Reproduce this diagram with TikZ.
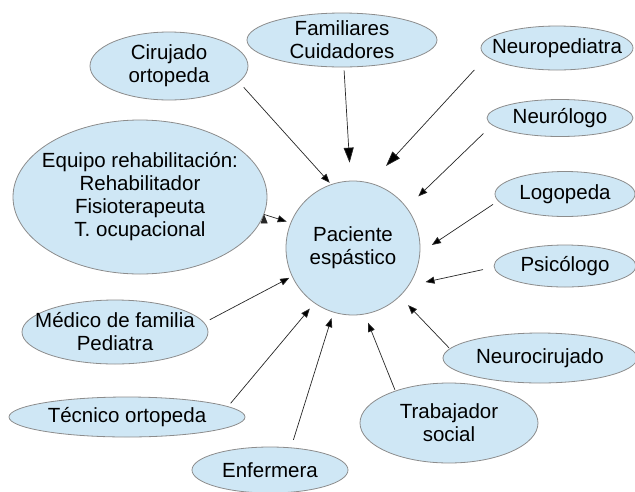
\documentclass[tikz,border=0pt]{standalone}
\usepackage{fontspec}
\setmainfont{Liberation Sans}
\usetikzlibrary{arrows.meta, shapes.geometric}
\definecolor{bubble}{RGB}{207,231,245}

\begin{document}
\begin{tikzpicture}[x=1pt, y=-1pt, font=\fontsize{20.5}{23}\selectfont, role/.style={ellipse, draw=black!45, line width=0.8pt, fill=bubble, inner sep=-60pt, align=center}, link/.style={draw=black!85, line width=0.7pt, -{Triangle[length=9pt, width=7pt]}}, wide/.style={-{Triangle[length=15pt, width=10pt]}}]
\useasboundingbox (0,0) rectangle (635,491);
\node[role, circle, minimum size=134pt]                 (PAC) at (353,248) {Paciente\\espástico};
\node[role, minimum width=190pt, minimum height=54pt]  (FAM) at (342,40)  {Familiares\\Cuidadores};
\node[role, minimum width=158pt, minimum height=68pt]  (CIR) at (169,66)  {Cirujado\\ortopeda};
\node[role, minimum width=254pt, minimum height=154pt] (EQU) at (140,197) {Equipo rehabilitación:\\Rehabilitador\\Fisioterapeuta\\T. ocupacional};
\node[role, minimum width=152pt, minimum height=44pt]  (NPD) at (557,48)  {Neuropediatra};
\node[role, minimum width=146pt, minimum height=37pt]  (NEU) at (560,118) {Neurólogo};
\node[role, minimum width=140pt, minimum height=45pt]  (LOG) at (565,194) {Logopeda};
\node[role, minimum width=142pt, minimum height=42pt]  (PSI) at (565,266) {Psicólogo};
\node[role, minimum width=194pt, minimum height=50pt]  (NCI) at (540,358) {Neurocirujado};
\node[role, minimum width=178pt, minimum height=80pt]  (TRA) at (449,423) {Trabajador\\social};
\node[role, minimum width=156pt, minimum height=46pt]  (ENF) at (270,470) {Enfermera};
\node[role, minimum width=236pt, minimum height=40pt]  (TEC) at (127,417) {Técnico ortopeda};
\node[role, minimum width=186pt, minimum height=64pt]  (MED) at (115,332) {Médico de familia\\Pediatra};
\path[link]
(CIR.-13)  edge [shorten <=7pt, shorten >=2pt]        (PAC.109)
(FAM.-86)  edge [wide, shorten <=3pt, shorten >=18pt]  (PAC.92)
(NPD.-173) edge [wide, shorten <=18pt, shorten >=23pt] (PAC.75)
(NEU.-174) edge [shorten <=12pt, shorten >=16pt]       (PAC.37)
(LOG.-174) edge [shorten <=6pt, shorten >=14pt]        (PAC.-4)
(PSI.-179) edge [shorten <=11pt, shorten >=17pt]       (PAC.-34)
(NCI.174)  edge [shorten <=1pt, shorten >=12pt]        (PAC.-46)
(TRA.149)  edge [shorten <=1pt, shorten >=9pt]         (PAC.-80)
(ENF.47)   edge [shorten <=8pt, shorten >=6pt]         (PAC.-107)
(TEC.6)    edge [shorten <=4pt, shorten >=7pt]         (PAC.-125)
(MED.6)    edge [shorten <=6pt, shorten >=3pt]         (PAC.-155)
(EQU.-8)   edge [shorten >=4pt]                        (PAC.158);
\end{tikzpicture}
\end{document}
